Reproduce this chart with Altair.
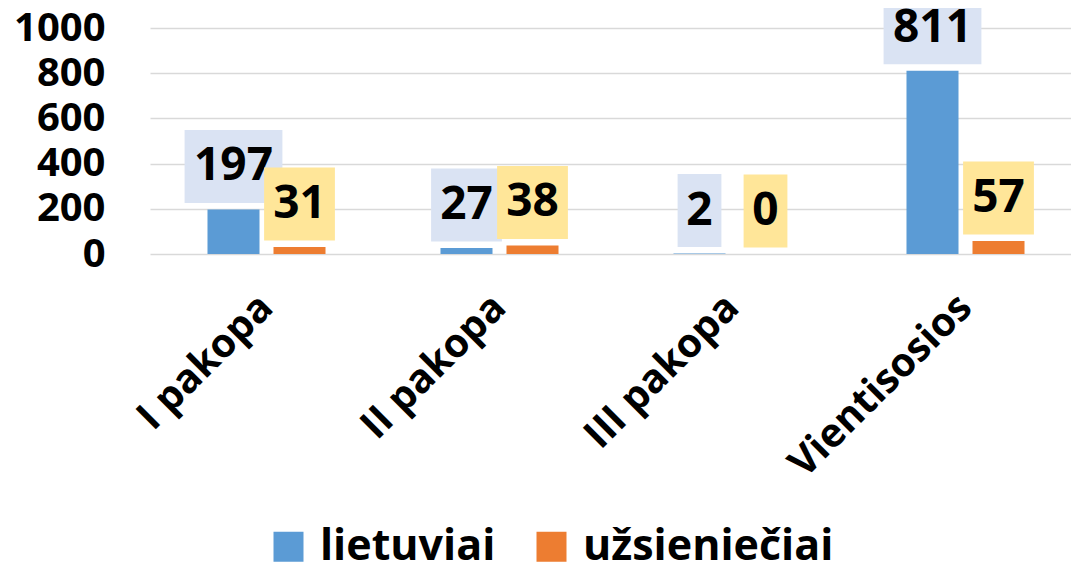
import altair as alt
import pandas as pd

categories = ["I pakopa", "II pakopa", "III pakopa", "Vientisosios"]
groups = ["lietuviai", "užsieniečiai"]
lietuviai = [197, 27, 2, 811]
uzsienieciai = [31, 38, 0, 57]
y_ticks = [0, 200, 400, 600, 800, 1000]

bar_colors = ["#5b9bd5", "#ed7d31"]
box_colors = ["#dae3f3", "#ffe699"]
FONT = "Open Sans"

rows = []
for c, a, b in zip(categories, lietuviai, uzsienieciai):
    rows.append({"category": c, "group": groups[0], "value": a, "label": str(a), "nd": len(str(a))})
    rows.append({"category": c, "group": groups[1], "value": b, "label": str(b), "nd": len(str(b))})
df = pd.DataFrame(rows)

x_enc = alt.X("category:N", sort=categories, title=None,
              scale=alt.Scale(paddingInner=0, paddingOuter=0, range=[0, 932]),
              axis=alt.Axis(labelAngle=-45, labelAlign="right", labelBaseline="middle",
                            labelFont=FONT, labelFontWeight="bold", labelFontSize=40,
                            labelColor="black", labelPadding=47, ticks=False, domain=False,
                            grid=False, labelLimit=500))
xoff_enc = alt.XOffset("group:N", sort=groups,
                       scale=alt.Scale(paddingInner=0.212, paddingOuter=0.871))
y_enc = alt.Y("value:Q", title=None,
              scale=alt.Scale(domain=[0, 1000], nice=False),
              axis=alt.Axis(values=y_ticks, format="d", labelFont=FONT, labelFontWeight="bold",
                            labelFontSize=40, labelColor="black", labelPadding=45,
                            ticks=False, domain=False, grid=True, gridColor="#d9d9d9",
                            gridWidth=1.5))

base = alt.Chart(df)

bars = base.mark_bar().encode(
    x=x_enc, xOffset=xoff_enc, y=y_enc,
    color=alt.Color("group:N", sort=groups,
                    scale=alt.Scale(domain=groups, range=bar_colors),
                    legend=alt.Legend(title=None, orient="none", legendX=117, legendY=497,
                                      direction="horizontal", symbolType="square",
                                      symbolSize=900, symbolStrokeWidth=0,
                                      labelFont=FONT, labelFontWeight="bold",
                                      labelFontSize=43, labelColor="black",
                                      labelOffset=10, columnPadding=34, padding=0,
                                      labelLimit=400)),
)

shape_scale = alt.Scale(domain=[1, 2, 3], range=[
    "M-0.6,-1H0.6V1H-0.6Z",
    "M-0.97,-1H0.97V1H-0.97Z",
    "M-1.34,-1H1.34V1H-1.34Z",
])

layers = [bars]
for g, bc in zip(groups, box_colors):
    sub = base.transform_filter(alt.datum.group == g)
    box = sub.mark_point(filled=True, opacity=1, strokeWidth=0, yOffset=-43, size=5329).encode(
        x=x_enc, xOffset=xoff_enc, y=y_enc,
        shape=alt.Shape("nd:O", scale=shape_scale, legend=None),
        color=alt.value(bc),
    )
    txt = sub.mark_text(dy=-43, font=FONT, fontWeight="bold", fontSize=46,
                        baseline="middle", align="center", color="black").encode(
        x=x_enc, xOffset=xoff_enc, y=y_enc, text="label:N",
    )
    layers += [box, txt]

chart = alt.layer(*layers).properties(
    width=921, height=226,
    autosize=alt.AutoSizeParams(type="none"),
    padding={"left": 142, "top": 20, "right": 0, "bottom": 310},
).configure_view(stroke=None)

chart.save("out.html", embed_options={"renderer": "svg", "actions": False})
